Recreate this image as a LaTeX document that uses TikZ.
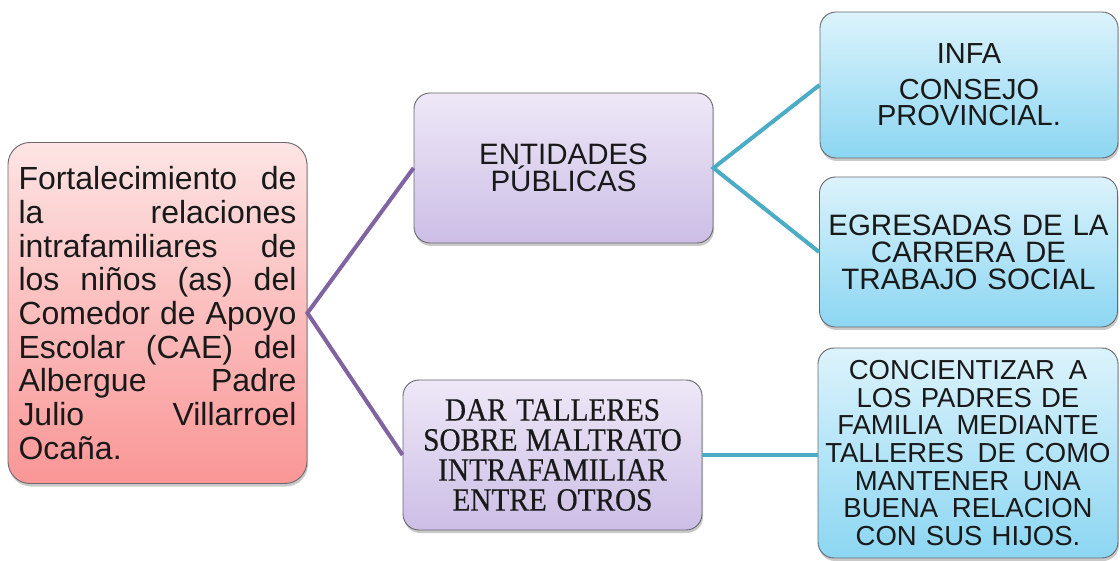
\documentclass[tikz,border=0pt]{standalone}
\usepackage{fontspec}
\setmainfont{Liberation Sans}
\newfontfamily\cambfont[FakeStretch=0.9,FakeBold=0.4]{Liberation Serif}
\usetikzlibrary{shadows}
\setlength\parindent{0pt}
\definecolor{txt}{RGB}{25,25,25}
\definecolor{bordergray}{RGB}{105,105,110}
\definecolor{pinktop}{RGB}{253,228,228}
\definecolor{pinkbot}{RGB}{250,150,150}
\definecolor{purtop}{RGB}{238,232,247}
\definecolor{purbot}{RGB}{204,190,230}
\definecolor{bluetop}{RGB}{220,243,252}
\definecolor{bluebot}{RGB}{140,214,242}
\definecolor{plinkc}{RGB}{128,100,162}
\definecolor{tlinkc}{RGB}{75,172,198}
\newcommand\jline[1]{\makebox[278pt][s]{\spaceskip=0pt\relax\xspaceskip=0pt\relax #1}\\}
\tikzset{
  basebox/.style={draw=bordergray, line width=0.9pt, rounded corners=16pt,
    inner sep=0pt, text=txt,
    drop shadow={shadow xshift=1pt, shadow yshift=-3pt, opacity=0.35, fill=black!60}},
  rootbox/.style={basebox, rounded corners=22pt, top color=pinktop, bottom color=pinkbot,
    minimum width=299pt, minimum height=341pt, text width=278pt, align=left,
    font=\fontsize{32}{33.7}\selectfont},
  purplebox/.style={basebox, top color=purtop, bottom color=purbot,
    minimum width=299pt, minimum height=150pt, text width=290pt, align=center},
  bluebox/.style={basebox, top color=bluetop, bottom color=bluebot,
    minimum width=298pt, text width=292pt, align=center},
  plink/.style={draw=plinkc, line width=4pt},
  tlink/.style={draw=tlinkc, line width=4pt}
}
\begin{document}
\begin{tikzpicture}[x=1pt, y=-1pt]
\useasboundingbox[fill=white] (0,0) rectangle (1120,561);

\node[rootbox] (root) at (157.5,313) {%
\jline{Fortalecimiento de}%
\jline{la relaciones}%
\jline{intrafamiliares de}%
\jline{los niños (as) del}%
\jline{Comedor de Apoyo}%
\jline{Escolar (CAE) del}%
\jline{Albergue Padre}%
\jline{Julio Villarroel}%
Ocaña.};

\node[purplebox, font=\fontsize{29.5}{25.5}\selectfont] (ent) at (563.5,168)
  {ENTIDADES\\PÚBLICAS};

\node[purplebox, font=\cambfont\fontsize{32.5}{30}\selectfont] (dar) at (552.5,455)
  {\spaceskip=0pt\relax DAR TALLERES\\SOBRE MALTRATO\\INTRAFAMILIAR\\ENTRE OTROS};

\node[bluebox, minimum height=146pt, font=\fontsize{29}{26.5}\selectfont] (infa) at (969,85)
  {INFA\\[9pt]CONSEJO\\PROVINCIAL.};

\node[bluebox, minimum height=150pt, font=\fontsize{29.5}{27}\selectfont] (egr) at (968.5,252)
  {EGRESADAS DE LA\\CARRERA DE\\TRABAJO SOCIAL};

\node[bluebox, minimum width=300pt, minimum height=210pt, font=\fontsize{27.5}{27.7}\selectfont] (conc) at (968,453)
  {CONCIENTIZAR\, A\\LOS PADRES DE\\FAMILIA\, MEDIANTE\\TALLERES\, DE COMO\\MANTENER\, UNA\\BUENA\, RELACION\\CON SUS HIJOS.};

\draw[plink] (ent.west) -- (root.east) -- (dar.west);
\draw[tlink] (infa.west) -- (ent.east) -- (egr.west);
\draw[tlink] (dar.east) -- (dar.east -| conc.west);
\end{tikzpicture}
\end{document}
